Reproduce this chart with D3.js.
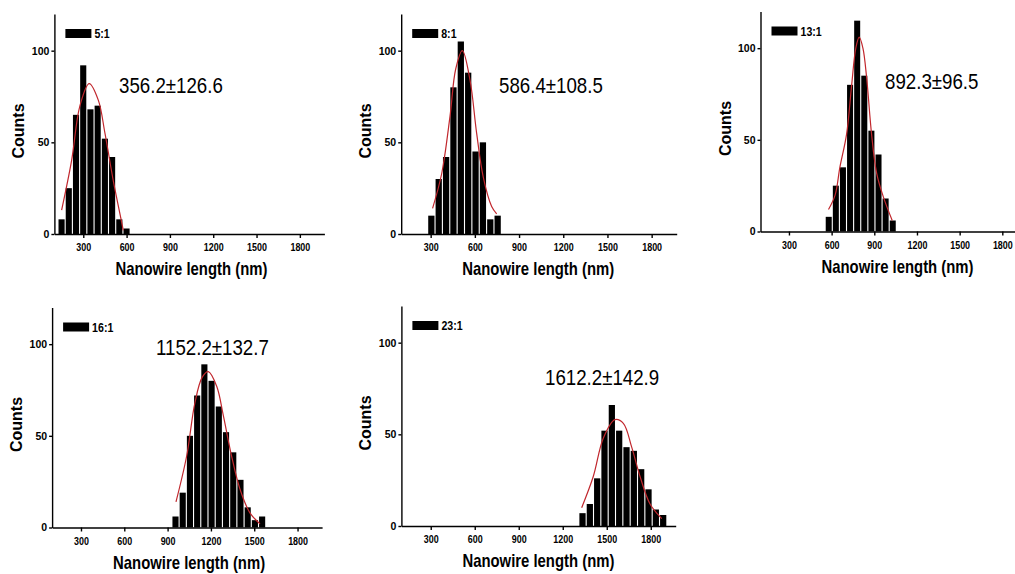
<!DOCTYPE html>
<html lang="en">
<head>
<meta charset="utf-8">
<title>Nanowire length distributions</title>
<script src="https://cdn.jsdelivr.net/npm/d3@7"></script>
<style>
  body { margin: 0; background: #fff; }
  svg { display: block; font-family: "Liberation Sans", Arial, sans-serif; }
  .axis path, .axis line { stroke: #000; stroke-width: 1.4px; }
  .axis text { font-size: 10.5px; font-weight: bold; fill: #000; }
  .fit { fill: none; stroke: #c1272d; stroke-width: 1.2px; }
</style>
</head>
<body>
<div id="chart"></div>
<script>
var width = 1015, height = 574;

// axis ticks
var xTicks = [300, 600, 900, 1200, 1500, 1800];
var yTicks = [0, 50, 100];

// one panel per aspect ratio
var ratios = ["5:1", "8:1", "13:1", "16:1", "23:1"];
var stats = ["356.2\u00b1126.6", "586.4\u00b1108.5", "892.3\u00b196.5", "1152.2\u00b1132.7", "1612.2\u00b1142.9"];

// histogram bin centres (nm) and counts
var bins1 = [150, 200, 250, 300, 350, 400, 450, 500, 550, 600];
var counts1 = [8, 25, 65, 92, 68, 70, 52, 42, 8, 3];
var bins2 = [305, 355, 405, 455, 505, 555, 605, 655, 705, 755];
var counts2 = [10, 30, 42, 80, 105, 88, 45, 50, 8, 10];
var bins3 = [580, 630, 680, 730, 780, 830, 880, 930, 980, 1030];
var counts3 = [8, 25, 35, 80, 115, 85, 55, 42, 18, 6];
var bins4 = [955, 1005, 1055, 1105, 1155, 1205, 1255, 1305, 1355, 1405, 1455, 1505, 1555];
var counts4 = [6, 19, 50, 72, 89, 80, 66, 52, 41, 26, 11, 4, 6];
var bins5 = [1335, 1385, 1435, 1485, 1535, 1585, 1635, 1685, 1735, 1785, 1835, 1885];
var counts5 = [7, 12, 26, 52, 66, 52, 43, 41, 31, 20, 9, 6];

// fitted curves, points
var fit1 = [[150, 13], [219, 40], [277, 70], [341, 82], [404, 73], [450, 55], [508, 29], [554, 11], [577, 2]];
var fit2 = [[313, 14], [375, 33], [431, 64], [470, 90], [515, 100], [567, 84], [612, 55], [657, 31], [714, 15], [748, 11]];
var fit3 = [[578, 12], [625, 20], [658, 35], [705, 53], [741, 80], [770, 100], [794, 106], [820, 100], [846, 84], [881, 53], [916, 32], [963, 19], [1026, 6]];
var fit4 = [[958, 14], [1032, 39], [1089, 68], [1140, 82], [1182, 85], [1240, 77], [1286, 61], [1343, 39], [1401, 21], [1470, 8], [1540, 2]];
var fit5 = [[1329, 10], [1408, 27], [1477, 48], [1556, 58], [1613, 56], [1670, 43], [1727, 27], [1795, 12], [1875, 4]];

var bins = [bins1, bins2, bins3, bins4, bins5];
var counts = [counts1, counts2, counts3, counts4, counts5];
var fits = [fit1, fit2, fit3, fit4, fit5];

// panel placement on the page
var layout = [
  {left: 54.4, top: 14, w: 270, note: [119, 93]},
  {left: 401.2, top: 14, w: 275.5, note: [499, 93]},
  {left: 760.5, top: 11.5, w: 266, note: [885, 89]},
  {left: 52.1, top: 307.5, w: 270, note: [156, 355]},
  {left: 401.4, top: 306, w: 274.3, note: [545, 385]}
];
var plotH = 220;

var svg = d3.select("#chart").append("svg")
    .attr("width", width)
    .attr("height", height);

svg.append("rect").attr("width", width).attr("height", height).attr("fill", "#fff");

// text squeezed a little horizontally, like the source image
function squeezed(g, x, y, txt, size, weight, anchor) {
  return g.append("g")
      .attr("transform", "translate(" + x + "," + y + ") scale(0.85,1)")
    .append("text")
      .attr("text-anchor", anchor || "start")
      .attr("font-size", size)
      .attr("font-weight", weight)
      .text(txt);
}

layout.forEach(function(L, i) {
  var g = svg.append("g");
  var x = d3.scaleLinear().domain([100, 1970]).range([L.left, L.left + L.w]);
  var y = d3.scaleLinear().domain([0, 120]).range([L.top + plotH, L.top]);
  var bw = x(150) - x(100);

  var data = bins[i].map(function(b, j) { return {c: b, n: counts[i][j]}; });

  g.selectAll("rect.bar")
    .data(data)
    .enter().append("rect")
      .attr("class", "bar")
      .attr("x", function(d) { return x(d.c - 25) + 0.5; })
      .attr("width", bw - 1.1)
      .attr("y", function(d) { return y(d.n); })
      .attr("height", function(d) { return y(0) - y(d.n); })
      .attr("fill", "#000");

  var line = d3.line()
      .x(function(d) { return x(d[0]); })
      .y(function(d) { return y(d[1]); })
      .curve(d3.curveCatmullRom.alpha(0.5));

  g.append("path")
      .datum(fits[i])
      .attr("class", "fit")
      .attr("d", line);

  var xa = g.append("g")
      .attr("class", "axis")
      .attr("transform", "translate(0," + y(0) + ")")
      .call(d3.axisBottom(x).tickValues(xTicks).tickFormat(d3.format("d"))
        .tickSize(4).tickSizeOuter(0).tickPadding(6));
  xa.selectAll("text").attr("transform", "scale(0.85,1)");

  var ya = g.append("g")
      .attr("class", "axis")
      .attr("transform", "translate(" + L.left + ",0)")
      .call(d3.axisLeft(y).tickValues(yTicks).tickFormat(d3.format("d"))
        .tickSize(3).tickSizeOuter(0).tickPadding(2));

  // legend
  g.append("rect")
      .attr("x", L.left + 11)
      .attr("y", L.top + 15)
      .attr("width", 26)
      .attr("height", 9)
      .attr("fill", "#000");
  squeezed(g, L.left + 40, L.top + 24, ratios[i], 12.5, "bold");

  // mean +- sd
  squeezed(g, L.note[0], L.note[1], stats[i], 22, "normal");

  // axis titles
  squeezed(g, L.left + 137, L.top + plotH + 41, "Nanowire length (nm)", 17.5, "bold", "middle");

  g.append("text")
      .attr("transform", "translate(" + (L.left - 30) + "," + (L.top + 117) + ") rotate(-90)")
      .attr("text-anchor", "middle")
      .attr("font-size", 16)
      .attr("font-weight", "bold")
      .text("Counts");
});
</script>
</body>
</html>
